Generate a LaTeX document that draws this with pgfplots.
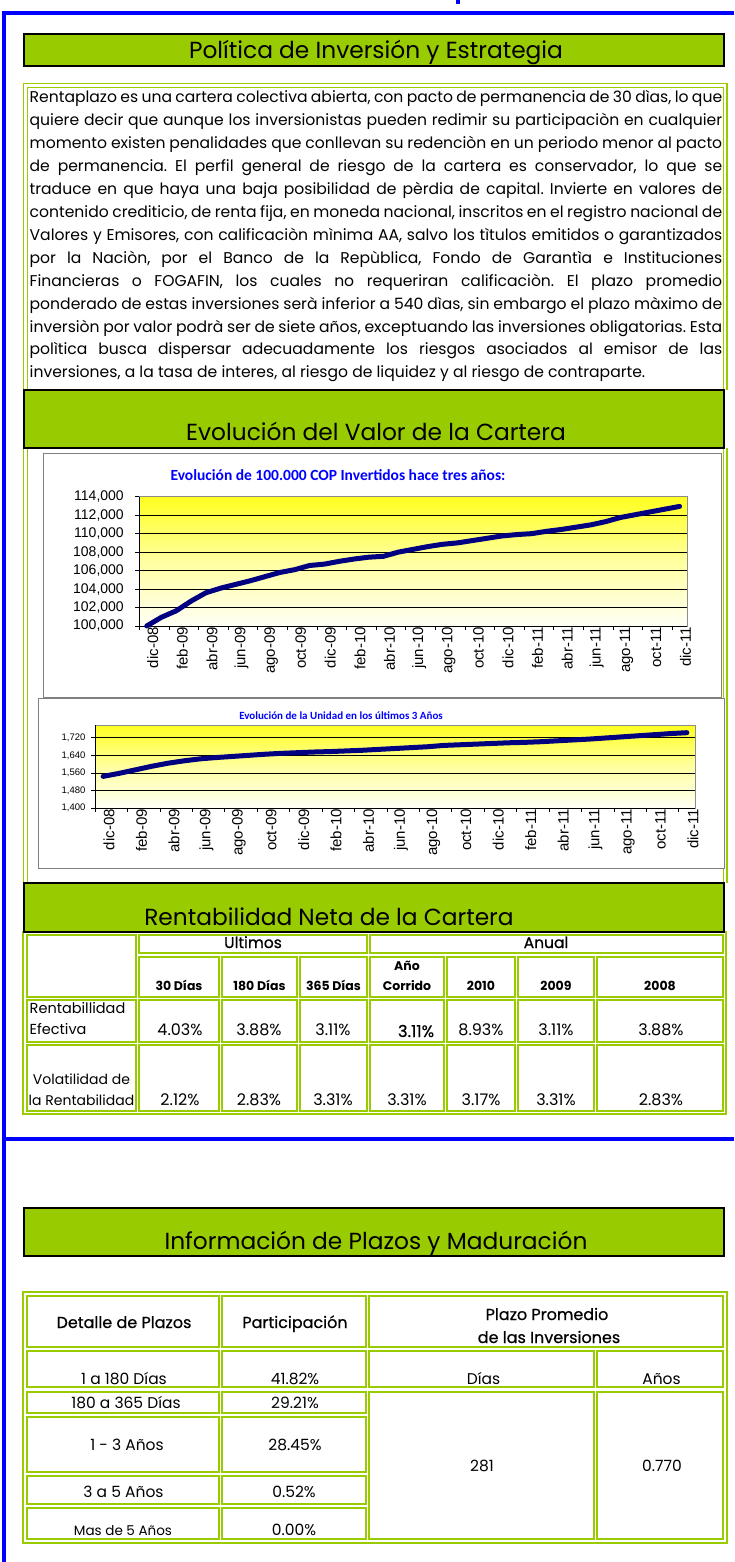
\documentclass[border=0pt]{standalone}
\usepackage{pgfplots}
\pgfplotsset{compat=1.18}
\usepackage{fontspec}
\setmainfont{Poppins}
\newfontfamily\arial{Liberation Sans}
\newfontfamily\carlito{Carlito}
\newfontfamily\pmed[FakeBold=0.6]{Poppins}
\definecolor{gr}{HTML}{99CC00}
\definecolor{bl}{HTML}{0000FF}
\definecolor{nv}{HTML}{000080}
\definecolor{yA}{HTML}{FFFF20}
\definecolor{yB}{HTML}{FFFFA0}
\definecolor{yC}{HTML}{FFFFF6}
\newcommand\fs[1]{\fontsize{#1}{#1}\selectfont}
\newcommand\gc[4]{\draw[gr, line width=1.8pt] (#1,-#2) rectangle (#3,-#4);}
\newcommand\gd[4]{\draw[gr, line width=2.4pt] (#1,-#2) rectangle (#3,-#4);}
\newcommand\tx[4][16]{\node[anchor=base, inner sep=0, font=\fs{#1}] at (#2,-#3) {#4};}

\pgfplotsset{
  excelline/.style={
    scale only axis, clip=false,
    xmin=-0.5, xmax=36.5,
    axis line style={black!45, line width=0.8pt},
    axis background/.style={top color=yA, bottom color=yC, middle color=yB},
    ymajorgrids, grid style={black, line width=0.7pt},
    scaled y ticks=false,
    xtick pos=bottom, ytick pos=left,
    /pgf/number format/fixed, /pgf/number format/1000 sep={,}, /pgf/number format/assume math mode=true,
    xtick={-0.5,1.5,...,35.5}, xticklabels={},
    extra x ticks={0,2,...,36},
    extra x tick labels={dic-08,feb-09,abr-09,jun-09,ago-09,oct-09,dic-09,feb-10,abr-10,jun-10,ago-10,oct-10,dic-10,feb-11,abr-11,jun-11,ago-11,oct-11,dic-11},
    extra x tick style={major tick length=0pt, xticklabel style={rotate=90, anchor=east, font=\arial\fs{15}, inner sep=1pt, yshift=-6pt}},
    major tick length=4pt, tick align=outside, tick style={black, line width=0.7pt},
  }
}

\begin{document}
\frenchspacing
\begin{tikzpicture}[x=1pt,y=1pt]
\fill[white] (0,0) rectangle (734,-1562);

% blue frame
\draw[bl, line width=4pt] (734,-13) -- (4,-13) -- (4,-1562);
\draw[bl, line width=4pt] (4,-1139) -- (734,-1139);
\fill[bl] (456,0) rectangle (460,-4);

% ---------- Section 1
\draw[fill=gr, line width=2pt] (24,-34) rectangle (724,-66);
\tx[23.3]{376}{59}{Política de Inversión y Estrategia}

\draw[gr, line width=1.5pt] (23.5,-390) -- (23.5,-83.5) -- (727,-83.5) -- (727,-390);
\draw[gr, line width=1.5pt] (27.5,-390) -- (27.5,-87.5) -- (723.5,-87.5) -- (723.5,-390);

\begin{scope}[every node/.style={anchor=base west, inner sep=0, font=\fs{15.6}}]
\node at (29.5,-103) {\makebox[692.5pt][s]{Rentaplazo es una cartera colectiva abierta, con pacto de permanencia de 30 dìas, lo que}};
\node at (29.5,-125.9) {\makebox[692.5pt][s]{quiere decir que aunque los inversionistas pueden redimir su participaciòn en cualquier}};
\node at (29.5,-148.8) {\makebox[692.5pt][s]{momento existen penalidades que conllevan su redenciòn en un periodo menor al pacto}};
\node at (29.5,-171.7) {\makebox[692.5pt][s]{de permanencia. El perfil general de riesgo de la cartera es conservador, lo que se}};
\node at (29.5,-194.6) {\makebox[692.5pt][s]{traduce en que haya una baja posibilidad de pèrdia de capital. Invierte en valores de}};
\node at (29.5,-217.5) {\makebox[692.5pt][s]{contenido crediticio, de renta fija, en moneda nacional, inscritos en el registro nacional de}};
\node at (29.5,-240.4) {\makebox[692.5pt][s]{Valores y Emisores, con calificaciòn mìnima AA, salvo los tìtulos emitidos o garantizados}};
\node at (29.5,-263.3) {\makebox[692.5pt][s]{por la Naciòn, por el Banco de la Repùblica, Fondo de Garantìa e Instituciones}};
\node at (29.5,-286.2) {\makebox[692.5pt][s]{Financieras o FOGAFIN, los cuales no requeriran calificaciòn. El plazo promedio}};
\node at (29.5,-309.1) {\makebox[692.5pt][s]{ponderado de estas inversiones serà inferior a 540 dìas, sin embargo el plazo màximo de}};
\node at (29.5,-332.0) {\makebox[692.5pt][s]{inversiòn por valor podrà ser de siete años, exceptuando las inversiones obligatorias. Esta}};
\node at (29.5,-354.9) {\makebox[692.5pt][s]{polìtica busca dispersar adecuadamente los riesgos asociados al emisor de las}};
\node at (29.5,-377.8) {inversiones, a la tasa de interes, al riesgo de liquidez y al riesgo de contraparte.};
\end{scope}

% ---------- Section 2
\draw[gr, line width=1.5pt] (23.5,-448) -- (23.5,-883) (27.5,-448) -- (27.5,-883)
                            (723.5,-448) -- (723.5,-883) (727,-448) -- (727,-883);
\draw[fill=gr, line width=2pt] (24,-390) rectangle (724,-448);
\tx[23.3]{376}{440}{Evolución del Valor de la Cartera}

\draw[black!50, fill=white, line width=1pt] (43,-453) rectangle (721,-697);
\draw[black!50, fill=white, line width=1pt] (38,-698) rectangle (724,-868);

\node[anchor=base, inner sep=0, font=\carlito\bfseries\fs{15.5}, text=bl] at (338,-480) {Evolución de 100.000 COP Invertidos hace tres años:};
\node[anchor=base, inner sep=0, font=\carlito\bfseries\fs{11}, text=bl] at (341,-719) {Evolución de la Unidad en los últimos 3 Años};

\begin{scope}[shift={(139.3,-626)}]
\begin{axis}[excelline,
  at={(0,0)}, anchor=south west,
  width=547.7pt, height=129.3pt,
  ymin=100000, ymax=114000,
  ytick={100000,102000,...,114000},
  yticklabel style={font=\arial\fs{14}, xshift=-8pt},
]
\draw[black, line width=0.8pt] (rel axis cs:0,1) -- (rel axis cs:0,0) -- (rel axis cs:1,0);
\addplot[nv, line width=5pt, line cap=round, line join=round, no markers] table {
0 100000
1 100950
2 101650
3 102700
4 103600
5 104100
6 104500
7 104900
8 105350
9 105800
10 106100
11 106550
12 106700
13 107000
14 107250
15 107450
16 107550
17 108000
18 108300
19 108600
20 108850
21 109000
22 109250
23 109500
24 109750
25 109900
26 110000
27 110250
28 110450
29 110700
30 110950
31 111300
32 111750
33 112050
34 112350
35 112650
36 112950
};
\end{axis}
\end{scope}

\begin{scope}[shift={(95,-808)}]
\begin{axis}[excelline,
  at={(0,0)}, anchor=south west,
  width=600pt, height=83pt,
  ymin=1400, ymax=1778,
  ytick={1400,1480,...,1720},
  yticklabel style={font=\arial\fs{9.5}, xshift=-2pt},
]
\draw[black, line width=0.8pt] (rel axis cs:0,1) -- (rel axis cs:0,0) -- (rel axis cs:1,0);
\addplot[nv, line width=5pt, line cap=round, line join=round, no markers] table {
0 1544
1 1558
2 1574
3 1590
4 1604
5 1615
6 1624
7 1630
8 1635
9 1640
10 1645
11 1649
12 1652
13 1655
14 1657
15 1660
16 1663
17 1667
18 1671
19 1675
20 1679
21 1685
22 1688
23 1691
24 1694
25 1697
26 1699
27 1702
28 1706
29 1710
30 1714
31 1719
32 1724
33 1729
34 1734
35 1739
36 1743
};
\end{axis}
\end{scope}

% ---------- Section 3
\draw[gr, line width=1.8pt] (23,-932) rectangle (726,-1114);
\gc{27}{935}{136}{997}
\gc{139}{935}{367}{953}
\gc{370}{935}{723}{953}
\foreach \ya/\yb in {957/997,1000/1042,1045/1111}{
  \gc{139}{\ya}{219}{\yb} \gc{222}{\ya}{297}{\yb} \gc{300}{\ya}{367}{\yb} \gc{370}{\ya}{444}{\yb}
  \gc{447}{\ya}{515}{\yb} \gc{518}{\ya}{594}{\yb} \gc{597}{\ya}{723}{\yb}
}
\gc{27}{1000}{136}{1042}
\gc{27}{1045}{136}{1111}
\draw[fill=gr, line width=2pt] (24,-883) rectangle (724,-932);
\tx[23.3]{329}{925}{Rentabilidad Neta de la Cartera}

\node[anchor=base, inner sep=0, font=\pmed\fs{15.5}] at (253,-948) {Ultimos};
\node[anchor=base, inner sep=0, font=\pmed\fs{15.5}] at (546,-948) {Anual};
\begin{scope}[every node/.style={anchor=base, inner sep=0, font=\bfseries\fs{12.5}}]
\node at (179,-990) {30 Días};
\node at (259.5,-990) {180 Días};
\node at (333.5,-990) {365 Días};
\node at (407,-970) {Año};
\node at (407,-990) {Corrido};
\node at (481,-990) {2010};
\node at (556,-990) {2009};
\node at (660,-990) {2008};
\end{scope}
\node[anchor=base west, inner sep=0, font=\fs{14.5}] at (29.5,-1013) {Rentabillidad};
\node[anchor=base west, inner sep=0, font=\fs{14.5}] at (29.5,-1034) {Efectiva};
\tx[14]{81.5}{1084}{Volatilidad de}
\tx[14]{81.5}{1105}{la Rentabilidad}
\tx{180}{1035}{4.03\%}
\tx{259}{1035}{3.88\%}
\tx{333}{1035}{3.11\%}
\node[anchor=base, inner sep=0, font=\pmed\fs{16.5}] at (416,-1037) {3.11\%};
\tx{481}{1035}{8.93\%}
\tx{556}{1035}{3.11\%}
\tx{661}{1035}{3.88\%}
\tx{180}{1105}{2.12\%}
\tx{259}{1105}{2.83\%}
\tx{333}{1105}{3.31\%}
\tx{407}{1105}{3.31\%}
\tx{481}{1105}{3.17\%}
\tx{556}{1105}{3.31\%}
\tx{661}{1105}{2.83\%}

% ---------- Section 4
\draw[fill=gr, line width=2pt] (24,-1208) rectangle (724,-1256);
\tx[23.3]{376}{1249}{Información de Plazos y Maduración}

\gd{23}{1292}{727}{1543}
\gd{27}{1296}{219}{1347} \gd{222}{1296}{366}{1347} \gd{369}{1296}{723}{1347}
\gd{27}{1351}{219}{1387} \gd{222}{1351}{366}{1387} \gd{369}{1351}{594}{1387} \gd{597}{1351}{723}{1387}
\foreach \ya/\yb in {1392/1413,1417/1472,1476/1504,1508/1539}{
  \gd{27}{\ya}{219}{\yb} \gd{222}{\ya}{366}{\yb}
}
\gd{369}{1392}{594}{1539} \gd{597}{1392}{723}{1539}

\begin{scope}[every node/.style={anchor=base, inner sep=0, font=\pmed\fs{16}}]
\node at (124,-1328) {Detalle de Plazos};
\node at (295,-1328) {Participación};
\node at (547,-1320) {Plazo Promedio};
\node at (549,-1343) {de las Inversiones};
\end{scope}
\tx[15.5]{124}{1384}{1 a 180 Días}
\tx[15.5]{295}{1384}{41.82\%}
\tx[15.5]{483.5}{1384}{Días}
\tx[15.5]{661.5}{1384}{Años}
\tx[15.5]{126}{1408}{180 a 365 Días}
\tx[15.5]{295}{1408}{29.21\%}
\tx[15.5]{127}{1450}{1 - 3 Años}
\tx[15.5]{295}{1450}{28.45\%}
\tx[15.5]{482}{1471}{281}
\tx[15.5]{662}{1471}{0.770}
\tx[15.5]{123.5}{1497}{3 a 5 Años}
\tx[15.5]{294}{1497}{0.52\%}
\tx[13.5]{123}{1535}{Mas de 5 Años}
\tx[15.5]{294}{1535}{0.00\%}

\pgfresetboundingbox
\useasboundingbox (0,0) rectangle (734,-1562);
\end{tikzpicture}
\end{document}
